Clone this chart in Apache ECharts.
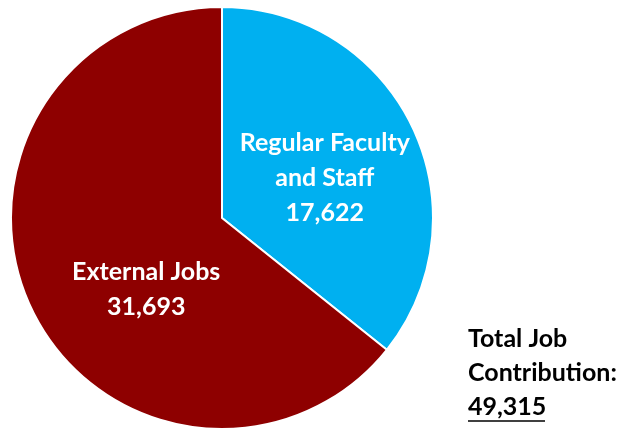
<!DOCTYPE html>
<html>
<head>
<meta charset="utf-8">
<script src="https://cdn.jsdelivr.net/npm/echarts@6/dist/echarts.min.js"></script>
<style>
  html, body { margin: 0; padding: 0; background: #fff; }
  #chart { width: 627px; height: 431px; }
</style>
</head>
<body>
<div id="chart"></div>
<script>
const categories = ["Regular Faculty\nand Staff", "External Jobs"];
const values = [17622, 31693];
const colors = ["#00b0f0", "#8e0000"];
const totalLabel = ["Total Job", "Contribution:"];
const totalValue = 49315;

const fmt = (n) => n.toLocaleString("en-US");
const font = "Lato, 'Open Sans', sans-serif";

const chart = echarts.init(document.getElementById("chart"));

chart.setOption({
  animation: false,
  series: [
    {
      type: "pie",
      center: [222, 218],
      radius: 211,
      startAngle: 90,
      clockwise: true,
      data: categories.map((name, i) => ({
        name: name,
        value: values[i],
        itemStyle: { color: colors[i] },
      })),
      itemStyle: { borderColor: "#fff", borderWidth: 2 },
      label: {
        position: "inside",
        color: "#fff",
        fontFamily: font,
        fontWeight: "bold",
        fontSize: 25,
        lineHeight: 35,
        formatter: (p) => p.name + "\n" + fmt(p.value),
      },
      labelLayout: (p) => (p.dataIndex === 0 ? { dx: 5, dy: 7 } : { dx: 22, dy: 24 }),
      labelLine: { show: false },
      emphasis: { disabled: true },
    },
  ],
  graphic: [
    {
      type: "text",
      left: 468,
      top: 322,
      style: {
        text: totalLabel.join("\n") + "\n" + fmt(totalValue),
        fill: "#000",
        font: "bold 25px " + font,
        lineHeight: 34,
      },
    },
    {
      type: "line",
      shape: { x1: 468, y1: 421, x2: 545, y2: 421 },
      style: { stroke: "#000", lineWidth: 1.5 },
    },
  ],
});
</script>
</body>
</html>
